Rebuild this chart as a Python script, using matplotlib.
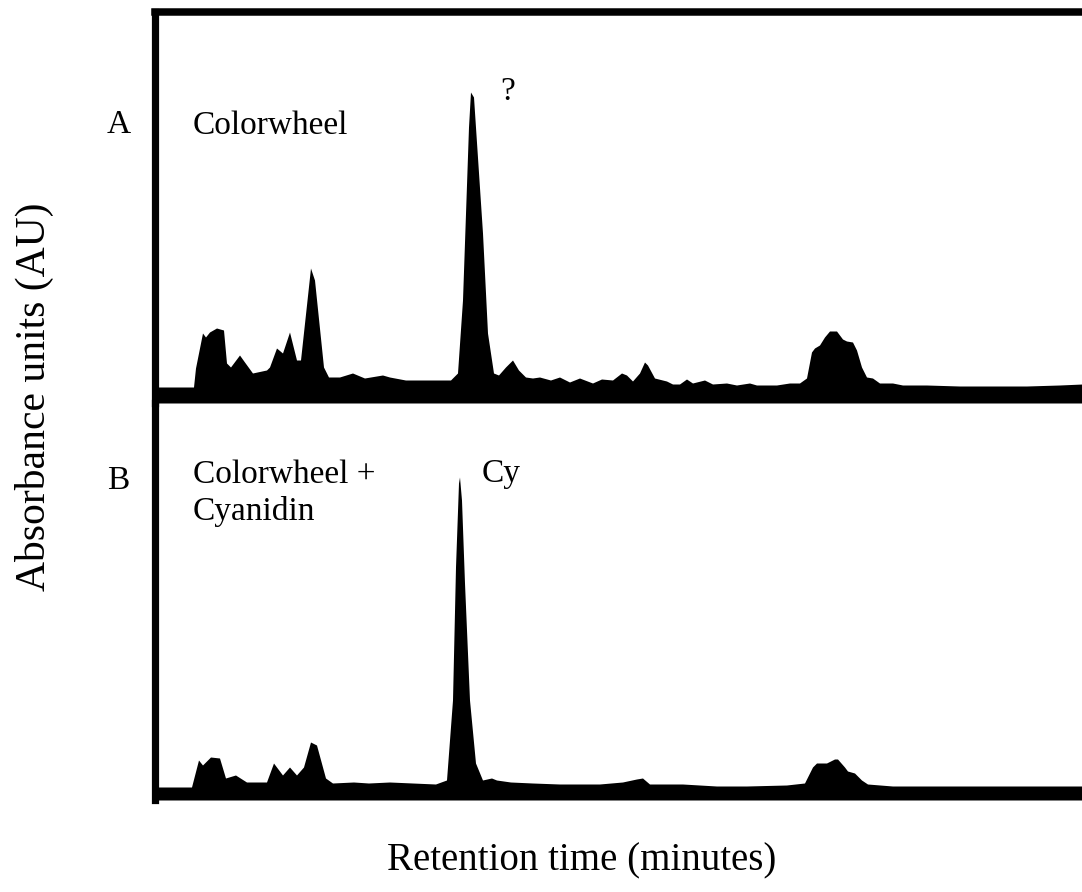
import matplotlib
matplotlib.use("Agg")
import matplotlib.pyplot as plt

plt.rcParams['font.family'] = ['Liberation Serif', 'DejaVu Serif']

# Trace A: Colorwheel extract (retention in scan units, absorbance in arbitrary units)
rt_a = [0, 39, 41, 48, 51, 55, 62, 69, 72, 76, 85, 90, 98, 112, 115, 122, 128, 135, 142, 146,
        156, 160, 169, 174, 185, 198, 210, 228, 235, 251, 296, 303, 308, 314, 316, 319, 328, 333,
        339, 344, 351, 358, 364, 371, 378, 385, 396, 405, 415, 425, 438, 447, 458, 467, 472, 478,
        485, 490, 493, 500, 512, 518, 525, 532, 538, 550, 558, 572, 582, 595, 602, 622, 635, 645,
        652, 657, 660, 665, 670, 675, 682, 688, 692, 698, 702, 707, 712, 718, 725, 738, 748, 772,
        805, 838, 872, 905, 928]
abs_a = [16, 16, 35, 70, 66, 71, 75, 73, 40, 36, 48, 41, 30, 33, 36, 55, 50, 71, 43, 43,
         135, 123, 36, 26, 26, 30, 25, 28, 26, 23, 23, 30, 103, 276, 311, 306, 170, 70,
         30, 28, 36, 43, 33, 26, 25, 26, 23, 26, 21, 25, 20, 24, 23, 30, 28, 22,
         30, 41, 38, 25, 22, 19, 19, 24, 20, 23, 19, 20, 18, 20, 18, 18, 20, 20,
         25, 51, 55, 58, 66, 72, 72, 64, 62, 61, 53, 36, 26, 25, 20, 20, 18, 18,
         17, 17, 17, 18, 19]

# Trace B: Colorwheel + Cyanidin
rt_b = [0, 37, 44, 48, 51, 56, 65, 71, 81, 92, 112, 119, 128, 135, 142, 149, 156, 162, 171, 178,
        199, 214, 235, 281, 292, 298, 301, 304, 305, 307, 310, 315, 321, 328, 337, 342, 356, 378,
        405, 445, 468, 482, 488, 495, 528, 562, 592, 632, 650, 658, 662, 672, 680, 683, 690, 693,
        700, 707, 713, 738, 805, 928]
abs_b = [13, 13, 40, 35, 38, 43, 42, 22, 25, 18, 18, 37, 25, 33, 25, 33, 58, 55, 22, 17,
         18, 17, 18, 16, 20, 100, 233, 317, 323, 300, 217, 100, 37, 20, 22, 20, 18, 17,
         16, 16, 18, 21, 22, 16, 16, 14, 14, 15, 17, 33, 37, 37, 41, 41, 33, 29,
         27, 20, 16, 14, 14, 14]

W, H = 1082, 892


def fx(x):
    return x / W


def fy(y):
    return 1 - y / H


fig = plt.figure(figsize=(W / 100, H / 100), dpi=100)

left = 154.5
ax_a = fig.add_axes([fx(left), fy(403), 1 - fx(left), fy(11.5) - fy(403)])
ax_b = fig.add_axes([fx(left), fy(800), 1 - fx(left), fy(403) - fy(800)])

for ax, rt, ab, top in [(ax_a, rt_a, abs_a, 403 - 11.5), (ax_b, rt_b, abs_b, 800 - 403)]:
    ax.fill_between(rt, ab, 0, color='black', lw=0)
    ax.set_xlim(0, W - left)
    ax.set_ylim(0, top)
    ax.set_xticks([])
    ax.set_yticks([])
    ax.patch.set_alpha(0)
    for s in ax.spines.values():
        s.set_visible(False)
    ax.spines['left'].set_visible(True)
    ax.spines['left'].set_linewidth(5.2)
    ax.spines['left'].set_capstyle('projecting')

ax_a.spines['top'].set_visible(True)
ax_a.spines['top'].set_linewidth(5.4)
ax_a.spines['top'].set_capstyle('projecting')

fs = 24
fig.text(fx(107), fy(133), 'A', fontsize=fs, va='baseline')
fig.text(fx(193), fy(134), 'Colorwheel', fontsize=fs, va='baseline')
fig.text(fx(500), fy(100), '?', fontsize=fs, va='baseline')

fig.text(fx(107), fy(489), 'B', fontsize=fs, va='baseline')
fig.text(fx(193), fy(483), 'Colorwheel +', fontsize=fs, va='baseline')
fig.text(fx(193), fy(520), 'Cyanidin', fontsize=fs, va='baseline')
fig.text(fx(482), fy(482), 'Cy', fontsize=fs, va='baseline')

fig.text(fx(34), fy(397), 'Absorbance units (AU)', fontsize=30, rotation=90,
         ha='center', va='center')
fig.text(fx(582), fy(870), 'Retention time (minutes)', fontsize=28,
         ha='center', va='baseline')

fig.savefig('out.png', dpi=100, facecolor='white')
